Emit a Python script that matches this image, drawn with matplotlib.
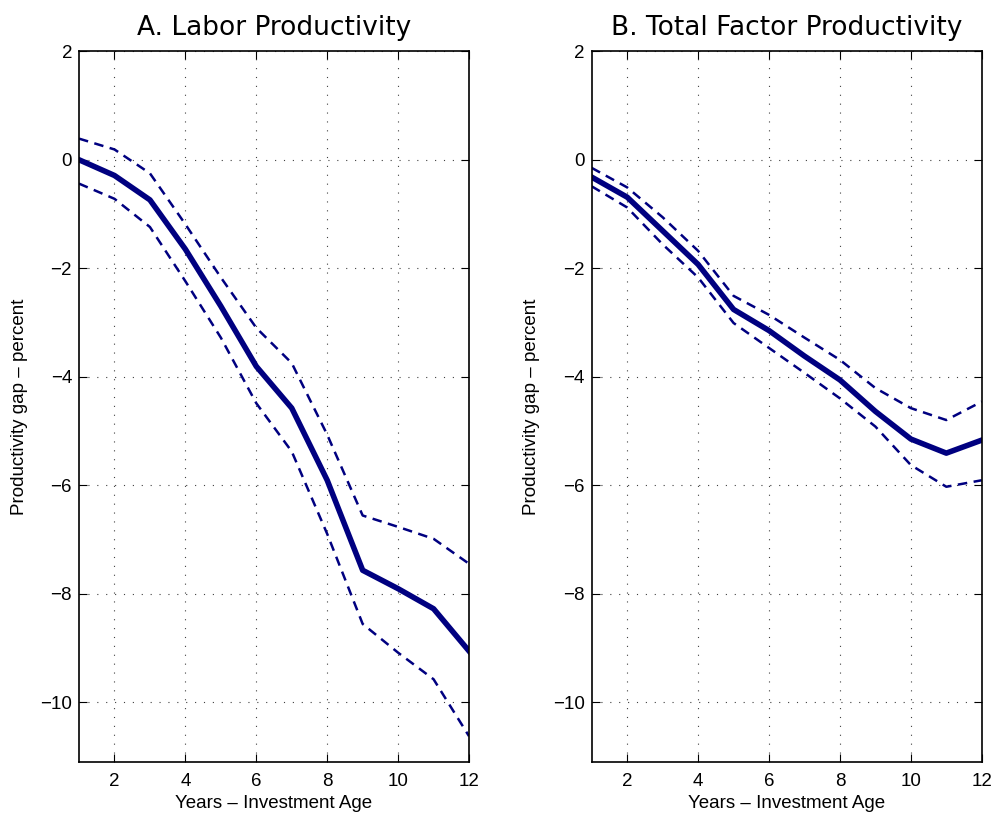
import matplotlib
matplotlib.use("Agg")
import matplotlib.pyplot as plt
import numpy as np

plt.rcParams['font.family'] = ['Liberation Sans', 'DejaVu Sans']

years = [1, 2, 3, 4, 5, 6, 7, 8, 9, 10, 11, 12]

# panel A - labor productivity
lp_mid = [0.0, -0.29, -0.74, -1.65, -2.70, -3.81, -4.58, -5.91, -7.57, -7.91, -8.28, -9.06]
lp_hi = [0.39, 0.19, -0.25, -1.19, -2.17, -3.10, -3.75, -5.07, -6.56, -6.77, -6.99, -7.45]
lp_lo = [-0.44, -0.72, -1.24, -2.24, -3.28, -4.49, -5.38, -6.90, -8.56, -9.09, -9.58, -10.63]

# panel B - total factor productivity
tfp_mid = [-0.32, -0.69, -1.31, -1.93, -2.76, -3.15, -3.62, -4.06, -4.64, -5.15, -5.41, -5.17]
tfp_hi = [-0.15, -0.51, -1.06, -1.68, -2.51, -2.86, -3.28, -3.69, -4.21, -4.58, -4.80, -4.46]
tfp_lo = [-0.49, -0.88, -1.56, -2.17, -3.01, -3.47, -3.93, -4.40, -4.92, -5.63, -6.03, -5.91]

titles = ['A. Labor Productivity', 'B. Total Factor Productivity']
xticks = [2, 4, 6, 8, 10, 12]
yticks = [-10, -8, -6, -4, -2, 0, 2]
navy = (0, 0, 0.5)

fig = plt.figure(figsize=(9.95, 8.13), dpi=100)
ax1 = fig.add_axes([0.0794, 0.0631, 0.392, 0.8738])
ax2 = fig.add_axes([0.5947, 0.0631, 0.392, 0.8738])

panels = [(ax1, lp_mid, lp_hi, lp_lo), (ax2, tfp_mid, tfp_hi, tfp_lo)]
for i, (ax, mid, hi, lo) in enumerate(panels):
    ax.plot(years, hi, color=navy, lw=1.8, ls=(0, (3.8, 2.6)))
    ax.plot(years, lo, color=navy, lw=1.8, ls=(0, (3.8, 2.6)))
    ax.plot(years, mid, color=navy, lw=4.0)
    ax.set_xlim(1, 12)
    ax.set_ylim(-11.1, 2)
    ax.set_xticks(xticks)
    ax.set_yticks(yticks)
    ax.set_yticklabels(['\u221210', '\u22128', '\u22126', '\u22124', '\u22122', '0', '2'])
    ax.grid(True, ls=(0, (1, 7)), color='0.25', lw=0.8)
    ax.tick_params(direction='in', top=True, right=True, labelsize=13.5, length=6, width=0.8)
    ax.tick_params(axis='x', pad=8)
    ax.tick_params(axis='y', pad=5)
    for s in ax.spines.values():
        s.set_linewidth(1.2)
    ax.set_title(titles[i], fontsize=19, pad=12, family=['DejaVu Sans'])
    ax.set_xlabel('Years \u2013 Investment Age', fontsize=13.5, labelpad=4)
    ax.set_ylabel('Productivity gap \u2013 percent', fontsize=13.5, labelpad=9)

fig.savefig('out.png', dpi=100)
